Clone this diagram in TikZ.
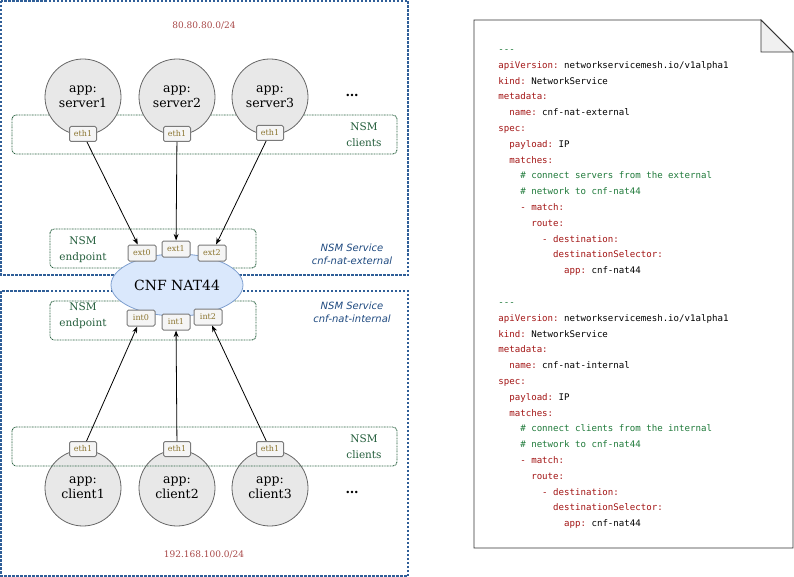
\documentclass[tikz,border=0pt]{standalone}
\usepackage{fontspec}
\setmainfont{DejaVu Serif}
\setsansfont{DejaVu Sans}
\setmonofont{DejaVu Sans Mono}
\usetikzlibrary{shapes.geometric,arrows.meta}

\definecolor{netblue}{HTML}{2F5E98}
\definecolor{netred}{HTML}{A84848}
\definecolor{nsmgreen}{HTML}{245E3C}
\definecolor{svcblue}{HTML}{1F4A80}
\definecolor{appgray}{HTML}{E8E8E8}
\definecolor{appline}{HTML}{666666}
\definecolor{portfill}{HTML}{F5F5F5}
\definecolor{portline}{HTML}{7A7A7A}
\definecolor{porttext}{HTML}{8B7530}
\definecolor{natfill}{HTML}{DAE8FC}
\definecolor{natline}{HTML}{7E9FD0}
\definecolor{yamlkey}{HTML}{A31515}
\definecolor{yamlcom}{HTML}{1F7A3A}
\definecolor{foldgray}{HTML}{F0F0F0}

\newcommand{\ykey}[1]{\textcolor{yamlkey}{#1}}
\newcommand{\ycom}[1]{\textcolor{yamlcom}{#1}}

\begin{document}
\begin{tikzpicture}[x=1pt,y=-1pt,>=Stealth,line width=0.8pt]
\tikzstyle{netbox}=[draw=netblue, line width=1.2pt, dash pattern=on 2.5pt off 1.5pt]
\tikzstyle{nsmbox}=[draw=nsmgreen, line width=0.9pt, dash pattern=on 0.9pt off 0.7pt, rounded corners=4pt]
\tikzstyle{app}=[draw=appline, circle, fill=appgray, minimum size=76pt, inner sep=0pt, align=center, font=\fontsize{12.5}{14.5}\selectfont]
\tikzstyle{port}=[draw=portline, line width=1pt, fill=portfill, rounded corners=1.5pt, minimum width=27pt, minimum height=15pt, inner sep=0pt, text=porttext, font=\fontsize{8}{9}\selectfont]
\tikzstyle{nsmtext}=[text=nsmgreen, align=center, font=\fontsize{10.5}{16}\selectfont]
\tikzstyle{svctext}=[text=svcblue, align=center, font=\sffamily\itshape\fontsize{10}{13}\selectfont]
\tikzstyle{subnet}=[text=netred, font=\fontsize{9}{11}\selectfont]
\tikzstyle{more}=[font=\bfseries\fontsize{13}{15}\selectfont]
\tikzstyle{yaml}=[anchor=north west, inner sep=0pt, align=left, font=\ttfamily\fontsize{9.1}{15.8}\selectfont]

\useasboundingbox (0,0) rectangle (794,577);

% external and internal networks
\draw[netbox] (1,1) rectangle (408,275);
\draw[netbox] (1,291) rectangle (408,576);
\node[subnet] (extnet) at (204,26) {80.80.80.0/24};
\node[subnet] (intnet) at (204,555) {192.168.100.0/24};

% servers
\draw[nsmbox] (12,115) rectangle (397,154);
\node[nsmtext] (srvclients) at (364,135) {NSM\\clients};
\node[app] (srv1) at (83,97) {app:\\server1};
\node[app] (srv2) at (177,97) {app:\\server2};
\node[app] (srv3) at (270,97) {app:\\server3};
\node[more] (srvdots) at (352,95) {\dots};
\node[port] (srv1eth) at (83,134) {eth1};
\node[port] (srv2eth) at (177,134) {eth1};
\node[port] (srv3eth) at (270,133) {eth1};

% CNF
\draw[nsmbox] (50,229) rectangle (256,268);
\draw[nsmbox] (50,301) rectangle (256,340);
\node[nsmtext] (extep) at (83,250) {NSM\\endpoint};
\node[nsmtext] (intep) at (83,316) {NSM\\endpoint};
\node[svctext] (extsvc) at (352,254) {NSM Service\\cnf-nat-external};
\node[svctext] (intsvc) at (352,312) {NSM Service\\cnf-nat-internal};
\node[ellipse, draw=natline, fill=natfill, minimum width=132pt, minimum height=62pt,
  font=\fontsize{14}{16}\selectfont] (nat) at (177,285) {CNF NAT44};
\node[port, minimum width=28pt, minimum height=16pt] (ext0) at (142,253) {ext0};
\node[port, minimum width=28pt, minimum height=16pt] (ext1) at (176,249) {ext1};
\node[port, minimum width=28pt, minimum height=16pt] (ext2) at (212,253) {ext2};
\node[port, minimum width=28pt, minimum height=16pt] (int0) at (141,318) {int0};
\node[port, minimum width=28pt, minimum height=16pt] (int1) at (176,322) {int1};
\node[port, minimum width=28pt, minimum height=16pt] (int2) at (208,317) {int2};

% clients
\node[app] (cli1) at (83,488) {app:\\client1};
\node[app] (cli2) at (177,488) {app:\\client2};
\node[app] (cli3) at (270,488) {app:\\client3};
\node[more] (clidots) at (352,492) {\dots};
\draw[nsmbox] (12,427) rectangle (397,466);
\node[nsmtext] (cliclients) at (364,447) {NSM\\clients};
\node[port] (cli1eth) at (83,449) {eth1};
\node[port] (cli2eth) at (177,449) {eth1};
\node[port] (cli3eth) at (270,449) {eth1};

\draw[->] (srv1eth) -- (ext0);
\draw[->] (srv2eth) -- (ext1);
\draw[->] (srv3eth) -- (ext2);
\draw[->] (cli1eth) -- (int0);
\draw[->] (cli2eth) -- (int1);
\draw[->] (cli3eth) -- (int2);

% network service definitions
\draw[draw=black!80, fill=white] (474,20) -- (761,20) -- (793,52) -- (793,548) -- (474,548) -- cycle;
\draw[draw=black!80, fill=foldgray] (761,20) -- (761,52) -- (793,52) -- cycle;
\node[yaml] (ymlext) at (498,41.1) {\strut\ycom{---}\\
\ykey{apiVersion:} networkservicemesh.io/v1alpha1\\
\ykey{kind:} NetworkService\\
\ykey{metadata:}\\
\ \ \ykey{name:} cnf-nat-external\\
\ykey{spec:}\\
\ \ \ykey{payload:} IP\\
\ \ \ykey{matches:}\\
\ \ \ \ \ycom{\# connect servers from the external}\\
\ \ \ \ \ycom{\# network to cnf-nat44}\\
\ \ \ \ \ykey{- match:}\\
\ \ \ \ \ \ \ykey{route:}\\
\ \ \ \ \ \ \ \ \ykey{- destination:}\\
\ \ \ \ \ \ \ \ \ \ \ykey{destinationSelector:}\\
\ \ \ \ \ \ \ \ \ \ \ \ \ykey{app:} cnf-nat44};
\node[yaml] (ymlint) at (498,294.1) {\strut\ycom{---}\\
\ykey{apiVersion:} networkservicemesh.io/v1alpha1\\
\ykey{kind:} NetworkService\\
\ykey{metadata:}\\
\ \ \ykey{name:} cnf-nat-internal\\
\ykey{spec:}\\
\ \ \ykey{payload:} IP\\
\ \ \ykey{matches:}\\
\ \ \ \ \ycom{\# connect clients from the internal}\\
\ \ \ \ \ycom{\# network to cnf-nat44}\\
\ \ \ \ \ykey{- match:}\\
\ \ \ \ \ \ \ykey{route:}\\
\ \ \ \ \ \ \ \ \ykey{- destination:}\\
\ \ \ \ \ \ \ \ \ \ \ykey{destinationSelector:}\\
\ \ \ \ \ \ \ \ \ \ \ \ \ykey{app:} cnf-nat44};
\end{tikzpicture}
\end{document}
